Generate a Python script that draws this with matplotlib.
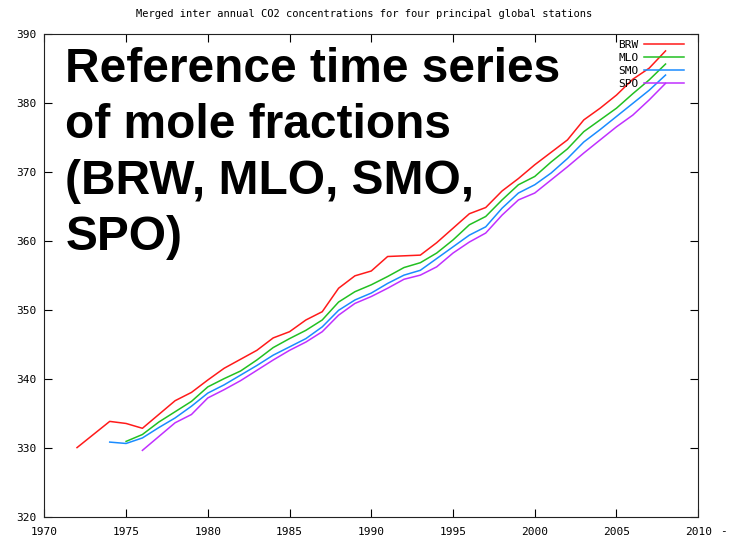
import matplotlib
matplotlib.use("Agg")
import matplotlib.pyplot as plt

years_brw = list(range(1972, 2009))
brw = [330.1, 332.0, 333.9, 333.6, 332.9, 334.9, 336.9, 338.1, 339.9, 341.6,
       342.9, 344.2, 346.0, 346.9, 348.6, 349.8, 353.2, 355.0, 355.7, 357.8,
       357.9, 358.0, 359.8, 361.9, 364.0, 364.9, 367.3, 369.1, 371.1, 372.9,
       374.7, 377.6, 379.3, 381.2, 383.5, 385.1, 387.6]

years_mlo = list(range(1975, 2009))
mlo = [331.0, 332.0, 333.8, 335.3, 336.8, 338.9, 340.1, 341.2, 342.8, 344.6,
       345.9, 347.1, 348.6, 351.2, 352.7, 353.7, 354.9, 356.2, 356.9, 358.3,
       360.2, 362.4, 363.6, 366.0, 368.2, 369.4, 371.5, 373.4, 375.9, 377.6,
       379.3, 381.4, 383.4, 385.7]

years_smo = list(range(1974, 2009))
smo = [330.9, 330.7, 331.5, 333.0, 334.4, 336.1, 338.0, 339.2, 340.6, 342.0,
       343.5, 344.7, 345.9, 347.6, 350.0, 351.5, 352.5, 353.9, 355.1, 355.8,
       357.5, 359.2, 360.9, 362.1, 364.8, 367.0, 368.2, 369.9, 372.0, 374.4,
       376.2, 378.1, 380.0, 381.9, 384.1]

years_spo = list(range(1976, 2009))
spo = [329.7, 331.7, 333.7, 334.9, 337.3, 338.5, 339.8, 341.3, 342.8, 344.2,
       345.4, 346.9, 349.3, 351.0, 352.0, 353.2, 354.5, 355.1, 356.3, 358.3,
       359.9, 361.2, 363.8, 366.0, 367.0, 368.9, 370.8, 372.8, 374.7, 376.6,
       378.3, 380.5, 382.9]

xticks = [1970, 1975, 1980, 1985, 1990, 1995, 2000, 2005, 2010]
yticks = [320, 330, 340, 350, 360, 370, 380, 390]
title = "Merged inter annual CO2 concentrations for four principal global stations"
overlay = "Reference time series\nof mole fractions\n(BRW, MLO, SMO,\nSPO)"

colors = {"BRW": "#ff1a1a", "MLO": "#22c022", "SMO": "#1a8cff", "SPO": "#c030ff"}
mono = "DejaVu Sans Mono"

fig = plt.figure(figsize=(7.29, 5.36), dpi=100)
ax = fig.add_axes([0.0608, 0.0349, 0.897, 0.901])

ax.plot(years_brw, brw, color=colors["BRW"], lw=1.1, label="BRW")
ax.plot(years_mlo, mlo, color=colors["MLO"], lw=1.1, label="MLO")
ax.plot(years_smo, smo, color=colors["SMO"], lw=1.1, label="SMO")
ax.plot(years_spo, spo, color=colors["SPO"], lw=1.1, label="SPO")

ax.set_xlim(1970, 2010)
ax.set_ylim(320, 390)
ax.set_xticks(xticks)
ax.set_yticks(yticks)
ax.set_xticklabels([str(t) for t in xticks], fontfamily=mono, fontsize=8)
ax.set_yticklabels([str(t) for t in yticks], fontfamily=mono, fontsize=8)
ax.tick_params(axis="both", direction="in", length=6, width=0.8, top=True, right=True,
               labeltop=False, labelright=False)
ax.tick_params(axis="x", pad=7)
ax.tick_params(axis="y", pad=6)
for s in ax.spines.values():
    s.set_linewidth(0.8)
    s.set_color("#222222")

leg = ax.legend(loc="upper right", bbox_to_anchor=(0.99, 1.004), frameon=False,
                markerfirst=False, handlelength=3.6, handletextpad=0.5,
                labelspacing=0.27, borderpad=0.2,
                prop={"family": mono, "size": 8})

fig.text(0.5, 0.973, title, ha="center", va="center", fontfamily=mono, fontsize=7.5)
fig.text(0.997, 0.010, "-", ha="right", va="center", fontfamily=mono, fontsize=8)

ax.text(0.032, 0.973, overlay, transform=ax.transAxes, ha="left", va="top",
        fontfamily="Liberation Sans", fontweight="bold", fontsize=34.5,
        linespacing=1.31, color="black")

fig.savefig("out.png", dpi=100)
